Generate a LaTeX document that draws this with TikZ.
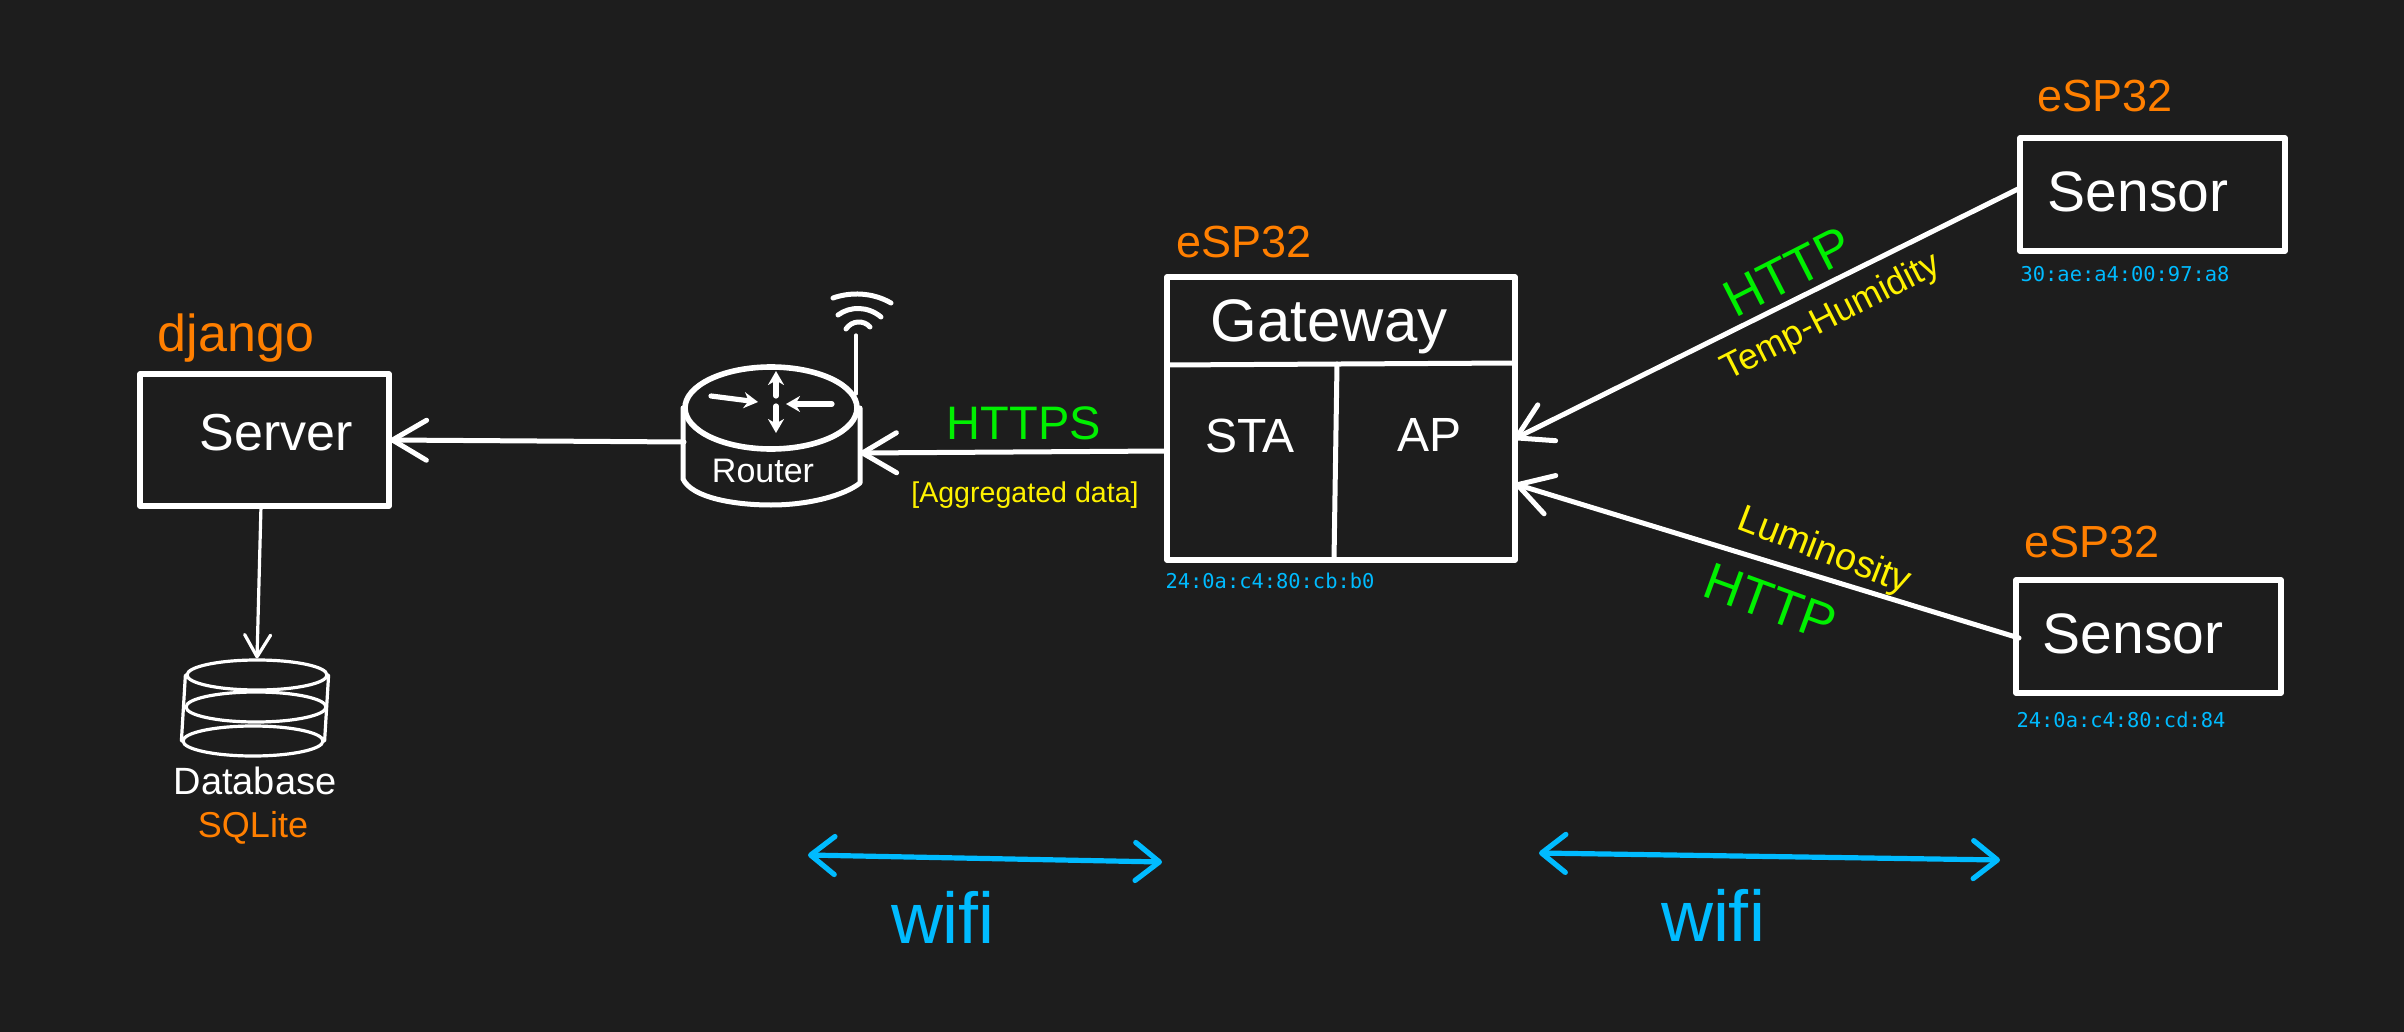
\documentclass[tikz,border=0pt]{standalone}
\usepackage{fontspec}
\setmainfont{Liberation Sans}
\setmonofont{DejaVu Sans Mono}
\usepackage{tikz}
\usetikzlibrary{arrows.meta,shapes.geometric}
\definecolor{bgc}{HTML}{1D1D1D}
\definecolor{orng}{HTML}{FF7F00}
\definecolor{grn}{HTML}{00F000}
\definecolor{ylw}{HTML}{FFF200}
\definecolor{skyb}{HTML}{00BBFF}

\begin{document}
\begin{tikzpicture}[x=.5pt, y=-.5pt, line cap=round, line join=round]
\tikzstyle{box}=[rectangle, draw=white, line width=2.7pt, inner sep=0pt]
\tikzstyle{wire}=[draw=white, line width=2.5pt]
\tikzstyle{thin}=[draw=white, line width=1.6pt]
\tikzstyle{arr}=[wire, -{Straight Barb[length=17pt, width=20pt, round]}]
\tikzstyle{dbl}=[draw=skyb, line width=2.6pt, {Straight Barb[length=12pt, width=19pt, round]}-{Straight Barb[length=12pt, width=19pt, round]}]
\tikzstyle{mini}=[draw=white, line width=2.6pt, -{Stealth[length=7pt, width=8pt]}]
\tikzstyle{txt}=[inner sep=0pt, text=white, font=\fontsize{#1}{#1}\selectfont]
\tikzstyle{mac}=[inner sep=0pt, text=skyb, font=\ttfamily\fontsize{10.2}{12}\selectfont]
\fill[bgc] (0,0) rectangle (2404,1032);
\useasboundingbox (0,0) rectangle (2404,1032);
%boxes
\node[box, minimum width=124.5pt, minimum height=66pt] (server) at (264.5,440) {};
\node[box, minimum width=174pt, minimum height=141.5pt] (gateway) at (1341,418.5) {};
\node[box, minimum width=132.5pt, minimum height=56.5pt] (sensorA) at (2152.5,194.5) {};
\node[box, minimum width=132.5pt, minimum height=56.5pt] (sensorB) at (2148.5,636.5) {};
\coordinate (gwhl) at (1167,365);
\coordinate (gwhr) at (1515,363);
\coordinate (gwvt) at (1337,364);
\coordinate (gwvb) at (1334,560);
\draw[wire] (gwhl) -- (gwhr);
\draw[wire] (gwvt) -- (gwvb);
%router
\node[ellipse, draw=white, line width=2.8pt, minimum width=86pt, minimum height=41pt, inner sep=0pt] (rtop) at (771,408) {};
\coordinate (rbl) at (683,408);
\coordinate (rbr) at (860,408);
\draw[wire] (rbl) -- (683,479) .. controls (692,498) and (735,505) .. (771,505) .. controls (810,505) and (845,495) .. (860,483) -- (rbr);
\coordinate (rcu) at (776,396);
\coordinate (rcd) at (776,406);
\coordinate (rcl) at (758,402);
\coordinate (rcr) at (786,404);
\coordinate (rul) at (711,396);
\coordinate (rur) at (832,404);
\coordinate (ruu) at (776,371);
\coordinate (rud) at (776,433);
\foreach \i/\j in {rul/rcl,rur/rcr,rcu/ruu,rcd/rud}{\draw[mini] (\i) -- (\j);}
%antenna
\coordinate (anta) at (856,394);
\coordinate (antb) at (856,335);
\draw[thin] (anta) -- (antb);
\draw[wire] (833,298) .. controls (850,292) and (872,292) .. (891,303);
\draw[wire] (838,315) .. controls (850,306) and (868,306) .. (881,317);
\draw[wire] (846,329) .. controls (852,320) and (864,320) .. (870,327);
%database
\foreach \n/\x/\y in {dba/257/675,dbb/256/707,dbc/253/741}{\node[ellipse, draw=white, line width=1.6pt, minimum width=70pt, minimum height=15pt, inner sep=0pt] (\n) at (\x,\y) {};}
\draw[thin] (dba.west) -- (dbc.west);
\draw[thin] (dba.east) -- (dbc.east);
%connectors
\coordinate (apA) at (1514,439);
\coordinate (apB) at (1515,484);
\coordinate (sAout) at (2018,189);
\coordinate (sBout) at (2019,638);
\coordinate (staout) at (1166,451);
\coordinate (rtin) at (860,453);
\coordinate (rtout) at (684,442);
\coordinate (srvin) at (390,440);
\coordinate (srvout) at (261,506);
\foreach \i/\j in {sAout/apA,sBout/apB,staout/rtin,rtout/srvin}{\draw[arr] (\i) -- (\j);}
\draw[thin, -{Straight Barb[length=11pt, width=13pt, round]}] (srvout) -- (dba.north);
%wifi
\coordinate (wla) at (808,855);
\coordinate (wlb) at (1162,862);
\coordinate (wra) at (1539,853);
\coordinate (wrb) at (2000,860);
\draw[dbl] (wla) -- (wlb);
\draw[dbl] (wra) -- (wrb);
%labels
\node[txt=26] (srvl) at (276,433) {Server};
\node[txt=26, text=orng] (djl) at (236,338) {django};
\node[txt=19] (dbl) at (255,781) {Database};
\node[txt=18, text=orng] (sql) at (253,828) {SQLite};
\node[txt=17] (rtl) at (763,471) {Router};
\node[txt=30] (gwl) at (1329,327) {Gateway};
\node[txt=24] (stal) at (1250,436) {STA};
\node[txt=24] (apl) at (1429,435) {AP};
\node[txt=22.5, text=orng] (espg) at (1244,242) {eSP32};
\node[txt=22.5, text=orng] (espa) at (2105,96) {eSP32};
\node[txt=22.5, text=orng] (espb) at (2092,542) {eSP32};
\node[txt=28.5] (sal) at (2138,192) {Sensor};
\node[txt=28.5] (sbl) at (2133,634) {Sensor};
\node[txt=23.5, text=grn] (httpsl) at (1024,423) {HTTPS};
\node[txt=14.3, text=ylw] (aggl) at (1025,495) {[Aggregated data]};
\node[txt=26, text=grn, rotate=27] (httpa) at (1788,272) {HTTP};
\node[txt=18, text=ylw, rotate=27] (templ) at (1831,318) {Temp-Humidity};
\node[txt=19, text=ylw, rotate=-21] (luml) at (1824,552) {Luminosity};
\node[txt=26, text=grn, rotate=-20] (httpb) at (1770,602) {HTTP};
\node[txt=36, text=skyb] (wfa) at (943,917) {wifi};
\node[txt=36, text=skyb] (wfb) at (1713,915) {wifi};
\node[mac] (macg) at (1270,581) {24:0a:c4:80:cb:b0};
\node[mac] (maca) at (2125,274) {30:ae:a4:00:97:a8};
\node[mac] (macb) at (2121,720) {24:0a:c4:80:cd:84};
\end{tikzpicture}
\end{document}
